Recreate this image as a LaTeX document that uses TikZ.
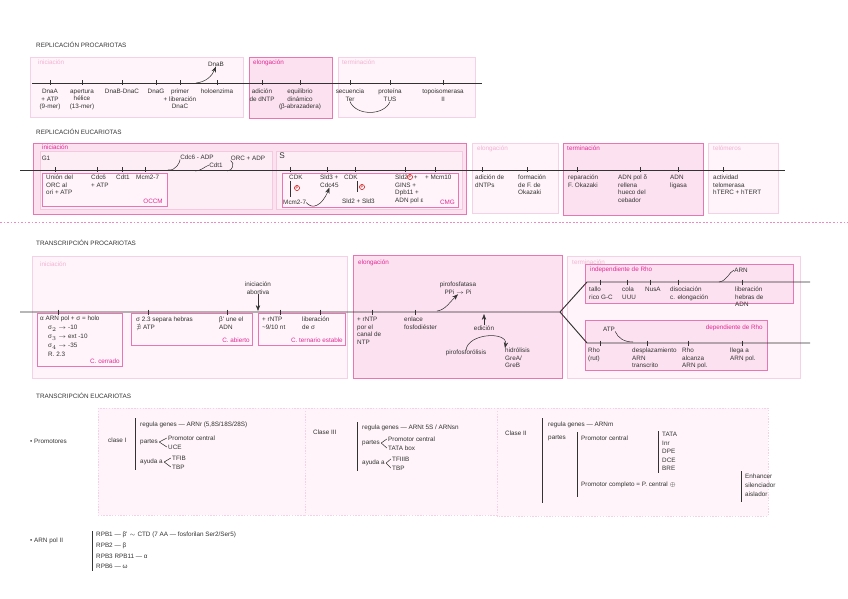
\documentclass[tikz,border=0pt]{standalone}
\usepackage{amssymb}
\usepackage{fontspec}
\setmainfont{Liberation Sans}
\usetikzlibrary{arrows.meta,positioning}
\definecolor{rimpink}{RGB}{232,118,178}
\definecolor{bodypink}{RGB}{252,226,240}
\definecolor{palerim}{RGB}{246,208,228}
\definecolor{palebody}{RGB}{254,244,249}
\definecolor{tagpink}{RGB}{226,40,150}
\definecolor{paletag}{RGB}{243,178,212}
\definecolor{inkgray}{RGB}{50,50,50}
\newcommand{\nt}{\fontsize{5.4}{6.4}\selectfont}
\newcommand{\tinyp}{\fontsize{3.4}{4}\selectfont}

\begin{document}
\begin{tikzpicture}[x=0.03cm,y=-0.03cm,>=Stealth,font=\nt,
  box/.style={draw=rimpink,fill=bodypink,line width=0.7pt},
  softbox/.style={draw=palerim,fill=palebody,line width=0.5pt},
  inbox/.style={draw=rimpink,fill=palebody,line width=0.6pt},
  dbox/.style={draw=palerim,fill=palebody,dash pattern=on 1.2pt off 1.2pt,line width=0.5pt},
  tag/.style={text=tagpink,anchor=north west,inner sep=0pt},
  softtag/.style={text=paletag,anchor=north west,inner sep=0pt},
  lbl/.style={align=center,inner sep=0pt,text=inkgray},
  lblw/.style={anchor=north west,align=left,inner sep=0pt,text=inkgray},
  head/.style={anchor=west,inner sep=0pt,text=inkgray},
  strand/.style={draw=inkgray,line width=0.8pt},
  fine/.style={draw=inkgray,line width=0.45pt},
  phos/.style={circle,draw=red!80!black,text=red!80!black,inner sep=0.4pt,font=\tinyp,line width=0.4pt}]
\useasboundingbox (0,0) rectangle (848,599);

% replicacion procariotas
\node[head] (h1) at (36,45) {REPLICACIÓN PROCARIOTAS};
\draw[softbox] (30,57) rectangle (243,117);
\draw[box] (249,57) rectangle (332,118);
\draw[softbox] (338,57) rectangle (475,117);
\node[softtag] (t1a) at (38,60) {iniciación};
\node[tag] (t1b) at (253,60) {elongación};
\node[softtag] (t1c) at (342,60) {terminación};
\coordinate (r1s) at (32,83); \coordinate (r1e) at (482,83);
\draw[strand] (r1s) -- (r1e);
\foreach \x/\t [count=\i] in {50/{DnaA\\+ ATP\\(9-mer)},82/{apertura\\hélice\\(13-mer)},122/{DnaB-DnaC},
  156/{DnaG},180/{primer\\+ liberación\\DnaC},217/{holoenzima},262/{adición\\de dNTP},
  300/{equilibrio\\dinámico\\(β-abrazadera)},350/{secuencia\\Ter},390/{proteína\\TUS},443/{topoisomerasa\\II}}{
  \draw[fine] (\x,80.5) -- (\x,85.5);
  \node[lbl,anchor=north] (p\i) at (\x,89) {\t};
}
\node[lbl] (dnab) at (216,64) {DnaB};
\coordinate (k0) at (196,83);
\draw[fine,->] (k0) .. controls (206,82) and (212,76) .. (dnab.south);
\draw[fine] (p9.south) .. controls (356,116) and (384,116) .. (p10.south);

% replicacion eucariotas
\node[head] (h2) at (36,132) {REPLICACIÓN EUCARIOTAS};
\draw[box] (33,143) rectangle (466,214);
\draw[draw=rimpink!40,fill=bodypink!60!white,line width=0.4pt] (40,151) rectangle (272,209);
\draw[draw=rimpink!40,fill=bodypink!60!white,line width=0.4pt] (276,151) rectangle (462,209);
\draw[inbox] (42,173) rectangle (167,206);
\draw[inbox] (282,173) rectangle (458,207);
\draw[softbox] (472,143) rectangle (558,213);
\draw[box] (563,143) rectangle (703,215);
\draw[softbox] (708,143) rectangle (778,213);
\node[tag] (t2a) at (42,145) {iniciación};
\node[softtag] (t2b) at (477,146) {elongación};
\node[tag] (t2c) at (567,146) {terminación};
\node[softtag] (t2d) at (713,146) {telómeros};
\coordinate (r2s) at (20,170); \coordinate (r2e) at (785,170);
\draw[strand] (r2s) -- (r2e);
\foreach \x/\lx/\t [count=\i] in {55/46/{Unión del\\ORC al\\ori + ATP},97/91/{Cdc6\\+ ATP},122/116/{Cdt1},145/136/{Mcm2-7},
  290/289/{CDK},327/320/{Sld3 +\\Cdc45},355/344/{CDK},405/395/{Sld2\phantom{P} +\\GINS +\\Dpb11 +\\ADN pol ε},435/425/{+ Mcm10},
  482/475/{adición de\\dNTPs},527/518/{formación\\de F. de\\Okazaki},577/568/{reparación\\F. Okazaki},
  640/618/{ADN pol δ\\rellena\\hueco del\\cebador},678/670/{ADN\\ligasa},723/713/{actividad\\telomerasa\\hTERC + hTERT}}{
  \draw[fine] (\x,167.5) -- (\x,172.5);
  \node[lblw] (e\i) at (\lx,175) {\t};
}
\node[lbl] (g1) at (46,158) {G1};
\node[lbl,font=\fontsize{7}{8}\selectfont] (sph) at (282,156) {S};
\node[tag,anchor=south east] (occm) at (163,204) {OCCM};
\node[tag,anchor=south east] (cmg) at (455,205) {CMG};
% cargas que salen
\node[lbl] (cdcadp) at (197,157) {Cdc6 - ADP};
\node[lbl] (cdtout) at (216,165) {Cdt1};
\node[lbl] (orcadp) at (248,158) {ORC + ADP};
\coordinate (k1) at (168,170); \coordinate (k2) at (195,171); \coordinate (k3) at (227,171);
\draw[fine] (k1) .. controls (176,171) and (180,162) .. (cdcadp.south west);
\draw[fine] (k2) .. controls (201,171) and (204,167) .. (cdtout.west);
\draw[fine] (k3) .. controls (233,171) and (235,163) .. (orcadp.south west);
% fase S
\node[lblw] (mcm) at (283,200) {Mcm2-7};
\draw[fine] (e5.south west) ++(1,1) -- ++(0,16);
\node[phos] (ph1) at (297,188) {P};
\node[lblw] (sldb) at (342,199) {Sld2 + Sld3};
\draw[fine] (e7.south east) ++(-1,1) -- ++(0,11);
\node[phos] (ph2) at (362,187) {P};
\node[phos] (ph3) at (410,177) {P};
\draw[fine,->] (mcm.east) .. controls (312,210) and (322,206) .. (e6.south);

\draw[draw=tagpink!55,dash pattern=on 1.5pt off 1.5pt,line width=0.6pt] (0,222) -- (848,222);

% transcripcion procariotas
\node[head] (h3) at (36,243) {TRANSCRIPCIÓN PROCARIOTAS};
\draw[softbox] (32,256) rectangle (347,378);
\draw[box] (353,255) rectangle (562,378);
\draw[softbox] (567,256) rectangle (800,378);
\draw[inbox] (37,313) rectangle (122,366);
\draw[inbox] (131,313) rectangle (252,345);
\draw[inbox] (258,313) rectangle (345,345);
\draw[box] (585,264) rectangle (793,303);
\draw[box] (585,320) rectangle (767,370);
\node[softtag] (t3a) at (40,262) {iniciación};
\node[tag] (t3b) at (358,260) {elongación};
\node[softtag] (t3c) at (572,260) {terminación};
\node[tag] (t3d) at (590,267) {independiente de Rho};
\node[tag,anchor=north east] (t3e) at (763,325) {dependiente de Rho};
\coordinate (r3s) at (20,312); \coordinate (split) at (560,312);
\coordinate (upk) at (587,282); \coordinate (upe) at (810,282);
\coordinate (lok) at (587,343); \coordinate (loe) at (810,343);
\draw[strand] (r3s) -- (split) -- (upk) -- (upe);
\draw[strand] (split) -- (lok) -- (loe);
\foreach \x in {58,148,227,280,320,372,415}{\draw[fine] (\x,309.5) -- (\x,314.5);}
\foreach \x in {600,627,650,678,742}{\draw[fine] (\x,279.5) -- (\x,284.5);}
\foreach \x in {600,647,688,742}{\draw[fine] (\x,340.5) -- (\x,345.5);}
\node[lblw] (s0) at (40,316) {α ARN pol + σ = holo};
\foreach \t [count=\i] in {{σ$_2$ $\to$ -10},{σ$_3$ $\to$ ext -10},{σ$_4$ $\to$ -35},{R. 2.3}}
  \node[lblw] (s\i) at (48,{316+9*\i}) {\t};
\node[tag,anchor=south east] (ccer) at (120,364) {C. cerrado};
\node[lblw] (sep) at (136,317) {σ 2.3 separa hebras\\$\nexists$ ATP};
\node[lblw] (bet) at (219,317) {β' une el\\ADN};
\node[tag,anchor=south east] (cabi) at (250,343) {C. abierto};
\node[lblw] (rntp) at (262,317) {+ rNTP\\\textasciitilde 9/10 nt};
\node[lblw] (lib) at (302,317) {liberación\\de σ};
\node[tag,anchor=south east] (cter) at (343,343) {C. ternario estable};
\node[lbl] (abort) at (258,288) {iniciación\\abortiva};
\coordinate (abx) at (258,311);
\draw[fine,->] (abort.south) -- (abx);
% elongacion
\node[lblw] (canal) at (357,317) {+ rNTP\\por el\\canal de\\NTP};
\node[lblw] (fdest) at (404,317) {enlace\\fosfodiéster};
\node[lbl] (ppase) at (458,288) {pirofosfatasa\\PPi $\to$ Pi};
\coordinate (pk) at (437,311);
\draw[fine,->] (pk) .. controls (445,310) and (449,303) .. (ppase.south);
\node[lbl] (edic) at (484,328) {edición};
\coordinate (ek) at (484,314);
\draw[fine,->] (edic.north) -- (ek);
\node[lbl,anchor=north] (ppol) at (466,350) {pirofosforólisis};
\node[lblw] (hidr) at (505,348) {hidrólisis\\GreA/\\GreB};
\draw[fine,->] (ppol.north) .. controls (468,333) and (508,331) .. (hidr.north west);
% terminacion
\foreach \lx/\t [count=\i] in {589/{tallo\\rico G-C},622/{cola\\UUU},645/{NusA},670/{disociación\\c. elongación},735/{liberación\\hebras de\\ADN}}
  \node[lblw] (ri\i) at (\lx,287) {\t};
\node[lbl] (arn) at (741,270) {ARN};
\coordinate (ak) at (719,282);
\draw[fine] (ak) .. controls (727,281) and (729,272) .. (arn.west);
\foreach \lx/\t [count=\i] in {588/{Rho\\(rut)},632/{desplazamiento\\ARN\\transcrito},682/{Rho\\alcanza\\ARN pol.},730/{llega a\\ARN pol.}}
  \node[lblw] (rd\i) at (\lx,348) {\t};
\node[lbl] (atp) at (609,329) {ATP};
\coordinate (tk) at (633,342);
\draw[fine] (atp.south east) .. controls (618,338) and (624,342) .. (tk);

% transcripcion eucariotas
\node[head] (h4) at (36,396) {TRANSCRIPCIÓN EUCARIOTAS};
\node[head] (prom) at (30,441) {• Promotores};
\draw[dbox] (98,408) rectangle (305,515);
\draw[dbox] (305,408) rectangle (497,515);
\draw[dbox] (497,408) rectangle (768,516);
% clase I
\node[head] (cI) at (108,440) {clase I};
\draw[fine] (135,418) -- (135,470);
\node[head] (rgI) at (140,425) {regula genes — ARNr (5,8S/18S/28S)};
\node[head] (paI) at (140,442) {partes};
\node[head] (pcI) at (168,438) {Promotor central};
\node[head] (ucI) at (168,447) {UCE};
\node[head] (ayI) at (140,462) {ayuda a};
\node[head] (tfI) at (172,458) {TFIB};
\node[head] (tbI) at (172,467) {TBP};
\foreach \a/\b in {paI/pcI,paI/ucI,ayI/tfI,ayI/tbI}{\draw[fine] ([xshift=1pt]\a.east) -- ([xshift=-1pt]\b.west);}
% clase III
\node[head] (cIII) at (313,432) {Clase III};
\draw[fine] (357,422) -- (357,471);
\node[head] (rgIII) at (362,428) {regula genes — ARNt 5S / ARNsn};
\node[head] (paIII) at (362,443) {partes};
\node[head] (pcIII) at (388,439) {Promotor central};
\node[head] (tbx) at (388,448) {TATA box};
\node[head] (ayIII) at (362,463) {ayuda a};
\node[head] (tfIII) at (392,459) {TFIIIB};
\node[head] (tbIII) at (392,468) {TBP};
\foreach \a/\b in {paIII/pcIII,paIII/tbx,ayIII/tfIII,ayIII/tbIII}{\draw[fine] ([xshift=1pt]\a.east) -- ([xshift=-1pt]\b.west);}
% clase II
\node[head] (cII) at (505,433) {Clase II};
\draw[fine] (542,418) -- (542,503);
\node[head] (rgII) at (548,425) {regula genes — ARNm};
\node[head] (paII) at (548,438) {partes};
\draw[fine] (577,432) -- (577,497);
\node[head] (pcII) at (581,438) {Promotor central};
\draw[fine] (658,431) -- (658,473);
\foreach \t [count=\i] in {TATA,Inr,DPE,DCE,BRE}
  \node[head] (el\i) at (662,{426+8.5*\i}) {\t};
\node[head] (pcomp) at (581,485) {Promotor completo = P. central $\oplus$};
\draw[fine] (741,471) -- (741,502);
\foreach \t [count=\i] in {Enhancer,silenciador,aislador}
  \node[head] (re\i) at (745,{467+9*\i}) {\t};

% ARN pol II
\node[head] (pol2) at (30,541) {• ARN pol II};
\draw[fine] (92,531) -- (92,571);
\foreach \t [count=\i] in {{RPB1 — β' $\sim$ CTD (7 AA — fosforilan Ser2/Ser5)},{RPB2 — β},{RPB3 RPB11 — α},{RPB6 — ω}}
  \node[head] (rpb\i) at (96,{524.5+10.5*\i}) {\t};
\end{tikzpicture}
\end{document}
